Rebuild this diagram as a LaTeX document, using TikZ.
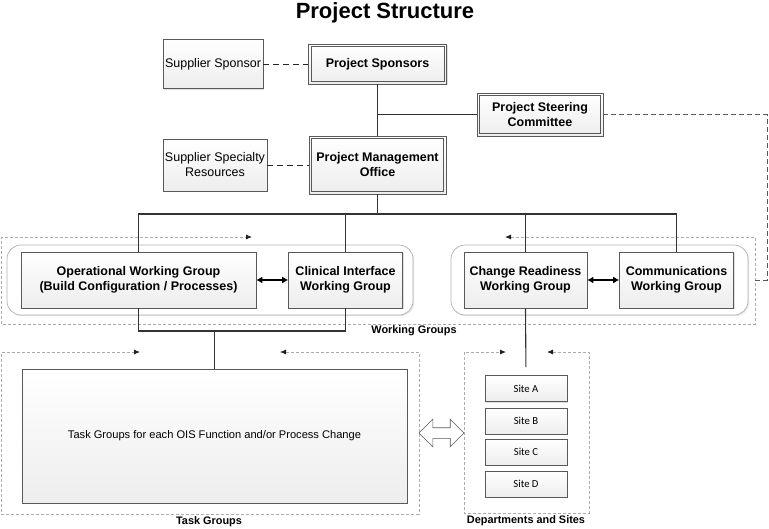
\documentclass[tikz,border=0pt]{standalone}
\usepackage{fontspec}
\setmainfont{Liberation Sans}
\newfontfamily\sitefont{Carlito}
\usetikzlibrary{positioning}
\usetikzlibrary{arrows.meta}
\usetikzlibrary{shapes.arrows}
\usetikzlibrary{shadows}

\tikzset{
  box/.style={draw=gray!70!black, line width=0.6pt, top color=white, bottom color=gray!14,
    align=center, inner sep=2pt,
    drop shadow={shadow xshift=1.2pt, shadow yshift=-1.2pt, opacity=0.25}},
  sbox/.style={box, font=\fontsize{12.5}{15}\selectfont},
  dbox/.style={box, font=\fontsize{12.5}{15}\selectfont\bfseries,
    path picture={\draw[gray!70!black, line width=0.6pt]
      ([shift={(2.6pt,-2.6pt)}]path picture bounding box.north west) rectangle
      ([shift={(-2.6pt,2.6pt)}]path picture bounding box.south east);}},
  wbox/.style={box, font=\fontsize{12.5}{15.5}\selectfont\bfseries},
  group/.style={draw=gray!60, line width=0.7pt, rounded corners=14pt, fill=white,
    drop shadow={shadow xshift=1.2pt, shadow yshift=-1.2pt, opacity=0.2}},
  sitebox/.style={box, minimum width=82pt, minimum height=26pt,
    font=\sitefont\fontsize{10.7}{12}\selectfont},
  lbl/.style={font=\fontsize{10.9}{13}\selectfont\bfseries},
  conn/.style={draw=black!80, line width=1.1pt},
  supl/.style={draw=black!85, line width=1pt, dash pattern=on 6pt off 4pt},
  steerl/.style={draw=gray!70!black, line width=0.9pt, dash pattern=on 5pt off 3pt},
  frame/.style={draw=gray!65, line width=0.8pt, dash pattern=on 3pt off 2pt},
  ftip/.tip={Latex[length=6pt, width=5pt, color=gray!25!black]},
  twoway/.style={draw=black, line width=1.4pt, {Latex[length=6pt,width=7pt]}-{Latex[length=6pt,width=7pt]}}
}

\begin{document}
\begin{tikzpicture}[x=1pt,y=-1pt]
\useasboundingbox (0,0) rectangle (769,528);

%---------------------------------------
% Title
%---------------------------------------
\node[font=\fontsize{22}{26}\selectfont\bfseries] (title) at (385,13) {Project Structure};

%---------------------------------------
% Sponsors and PMO
%---------------------------------------
\node[sbox, minimum width=100pt, minimum height=49pt] (supsp) at (213,64) {Supplier Sponsor};
\node[dbox, minimum width=138pt, minimum height=40pt] (spons) at (377.5,64) {Project Sponsors};
\node[dbox, minimum width=126pt, minimum height=43pt] (steer) at (540,114.5) {Project Steering\\Committee};
\node[sbox, minimum width=104pt, minimum height=52pt] (ssr) at (215,165) {Supplier Specialty\\Resources};
\node[dbox, minimum width=137pt, minimum height=58pt] (pmo) at (377.5,165) {Project Management\\Office};

%---------------------------------------
% Working groups
%---------------------------------------
\node[group, minimum width=406pt, minimum height=70pt] (grpL) at (210,280) {};
\node[group, minimum width=297pt, minimum height=70pt] (grpR) at (599.5,280) {};

\node[wbox, minimum width=235pt, minimum height=56pt] (opwg) at (138.5,280) {Operational Working Group\\(Build Configuration / Processes)};
\node[wbox, minimum width=114pt, minimum height=56pt] (clwg) at (345.5,280) {Clinical Interface\\Working Group};
\node[wbox, minimum width=123pt, minimum height=56pt] (crwg) at (525.5,280) {Change Readiness\\Working Group};
\node[wbox, minimum width=114pt, minimum height=56pt] (cmwg) at (676.5,280) {Communications\\Working Group};

%---------------------------------------
% Task groups and sites
%---------------------------------------
\node[box, minimum width=385pt, minimum height=134pt, font=\fontsize{11.1}{13}\selectfont] (taskg) at (214.5,436)
  {Task Groups for each OIS Function and/or Process Change};

\foreach \s/\y in {A/388.5,B/421,C/452,D/484}
  \node[sitebox] (site\s) at (526,\y) {Site \s};

\node[double arrow, draw=gray!70!black, fill=white, line width=0.6pt, inner xsep=0pt, inner ysep=5pt,
  minimum height=45pt, double arrow head extend=8.5pt] (link) at (441.5,433) {};

% dashed frames (open at the top)
\draw[frame, ftip-ftip] (505,237) -- (755,237) -- (755,324) -- (1.5,324) -- (1.5,237) -- (252,237);
\draw[frame, ftip-ftip] (280,352) -- (419,352) -- (419,514) -- (1.5,514) -- (1.5,352) -- (140,352);
\draw[frame, ftip-ftip] (547,352) -- (589,352) -- (589,513) -- (464,513) -- (464,352) -- (506,352);

\node[lbl] (wglbl) at (414,331) {Working Groups};
\node[lbl] (tglbl) at (209,522) {Task Groups};
\node[lbl] (dslbl) at (526,521) {Departments and Sites};

%---------------------------------------
% Connectors
%---------------------------------------
\draw[conn] (spons.south) -- (pmo.north);
\draw[conn] (spons.south |- steer.west) -- (steer.west);

\coordinate (bus) at (138.5,214);
\draw[conn] (opwg.north) -- (bus) -| (cmwg.north);
\draw[conn] (pmo.south) -- (pmo.south |- bus);
\draw[conn] (clwg.north) -- (clwg.north |- bus);
\draw[conn] (crwg.north) -- (crwg.north |- bus);

\coordinate (joint) at (138.5,331);
\draw[conn] (opwg.south) -- (joint) -| (clwg.south);
\draw[conn] (taskg.north |- joint) -- (taskg.north);
\draw[conn, shorten >=8pt] (crwg.south) -- (siteA.north);

\draw[twoway] (opwg.east) -- (clwg.west);
\draw[twoway] (crwg.east) -- (cmwg.west);

\draw[supl] (supsp.east) -- (spons.west);
\draw[supl] (ssr.east) -- (pmo.west);

\coordinate (wgE) at (755,280);
\coordinate (sbend) at (767,280);
\draw[steerl] (steer.east) -| (sbend) -- (wgE);

\end{tikzpicture}
\end{document}
